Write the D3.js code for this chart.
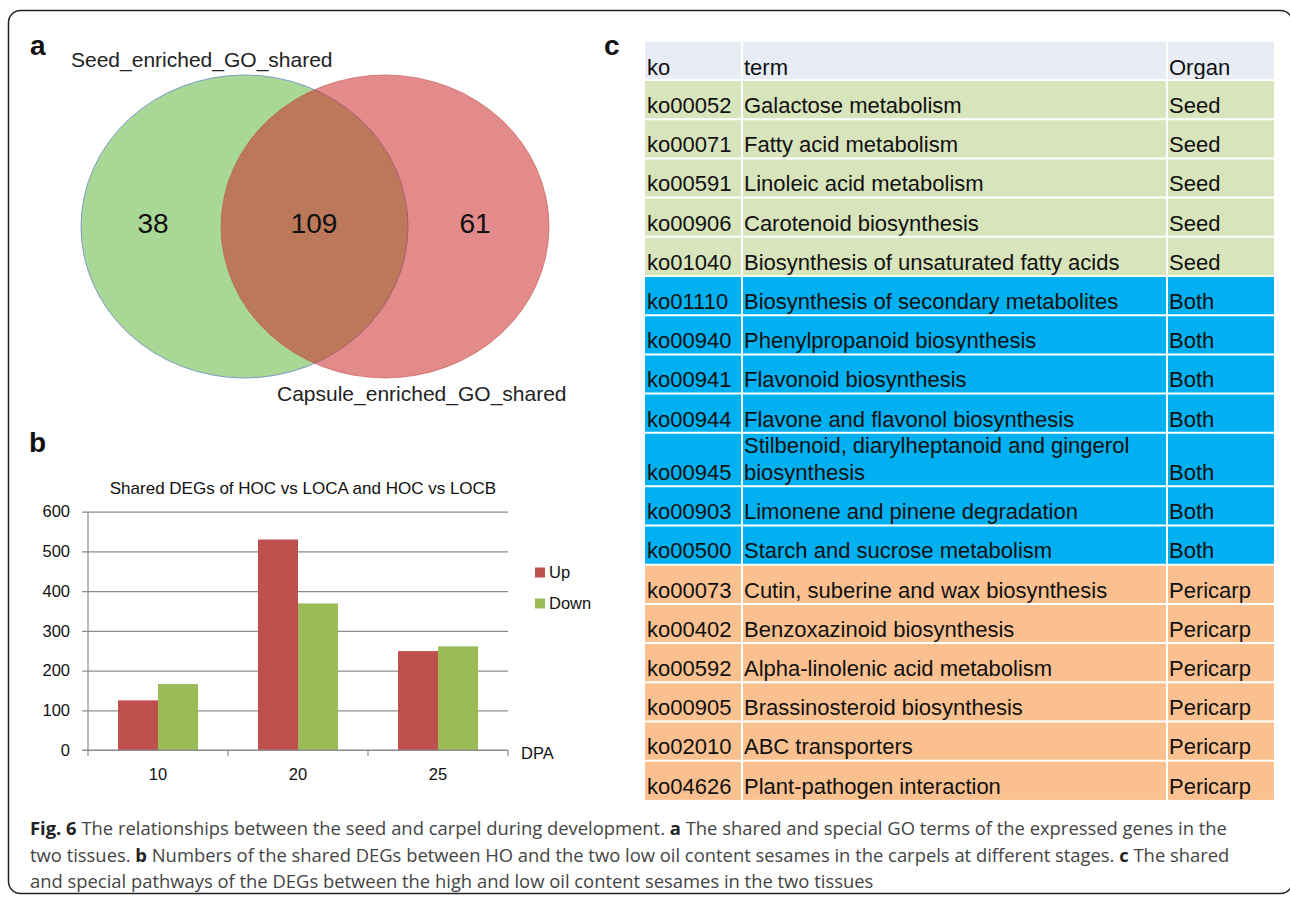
<!DOCTYPE html>
<html><head><meta charset="utf-8">
<script src="https://cdn.jsdelivr.net/npm/d3@7"></script>
<style>
html,body{margin:0;padding:0;background:#fff;}
svg{display:block;}
</style></head>
<body>
<svg id="fig" width="1290" height="898"></svg>
<script>
// ---------- DATA ----------
const vennSets = ["Seed_enriched_GO_shared", "Capsule_enriched_GO_shared"];
const vennCounts = [38, 109, 61]; // seed only, shared, capsule only

const barTitle = "Shared DEGs of HOC vs LOCA and HOC vs LOCB";
const barCategories = ["10", "20", "25"];
const barSeries = ["Up", "Down"];
const upValues = [125, 530, 249];
const downValues = [166, 369, 261];
const yTicks = [0, 100, 200, 300, 400, 500, 600];
const xAxisLabel = "DPA";

const tableHeader = ["ko", "term", "Organ"];
const koIds = ["ko00052","ko00071","ko00591","ko00906","ko01040","ko01110","ko00940","ko00941","ko00944","ko00945","ko00903","ko00500","ko00073","ko00402","ko00592","ko00905","ko02010","ko04626"];
const koTerms = ["Galactose metabolism","Fatty acid metabolism","Linoleic acid metabolism","Carotenoid biosynthesis","Biosynthesis of unsaturated fatty acids","Biosynthesis of secondary metabolites","Phenylpropanoid biosynthesis","Flavonoid biosynthesis","Flavone and flavonol biosynthesis","Stilbenoid, diarylheptanoid and gingerol biosynthesis","Limonene and pinene degradation","Starch and sucrose metabolism","Cutin, suberine and wax biosynthesis","Benzoxazinoid biosynthesis","Alpha-linolenic acid metabolism","Brassinosteroid biosynthesis","ABC transporters","Plant-pathogen interaction"];
const koOrgans = ["Seed","Seed","Seed","Seed","Seed","Both","Both","Both","Both","Both","Both","Both","Pericarp","Pericarp","Pericarp","Pericarp","Pericarp","Pericarp"];

const captionLines = [
  [["b","Fig. 6"],["n"," The relationships between the seed and carpel during development. "],["b","a"],["n"," The shared and special GO terms of the expressed genes in the"]],
  [["n","two tissues. "],["b","b"],["n"," Numbers of the shared DEGs between HO and the two low oil content sesames in the carpels at different stages. "],["b","c"],["n"," The shared"]],
  [["n","and special pathways of the DEGs between the high and low oil content sesames in the two tissues"]]
];

// ---------- DRAW ----------
const svg = d3.select("#fig");
const ARIAL = "'Liberation Sans', Arial, sans-serif";

// Border
svg.append("rect").attr("x", 8.5).attr("y", 10.5).attr("width", 1284).attr("height", 883)
  .attr("rx", 12).attr("ry", 12).attr("fill", "none").attr("stroke", "#222").attr("stroke-width", 1.5);

// Panel letters
const letters = [["a", 30, 55], ["b", 29, 452], ["c", 604, 55]];
svg.selectAll("text.panel").data(letters).join("text").attr("class", "panel")
  .attr("x", d => d[1]).attr("y", d => d[2]).text(d => d[0])
  .attr("font-family", ARIAL).attr("font-weight", "bold").attr("font-size", 28).attr("fill", "#111");

// ---------- Panel a: Venn ----------
const venn = svg.append("g");
const vx = d3.scaleLinear().domain([0, 1]).range([244.5, 385]);
venn.append("ellipse").attr("cx", vx(0)).attr("cy", 226.5).attr("rx", 163.5).attr("ry", 151.5)
  .attr("fill", "#A9D795").attr("stroke", "#7E9BC8").attr("stroke-width", 1);
venn.append("ellipse").attr("cx", vx(1)).attr("cy", 226.5).attr("rx", 164).attr("ry", 151.5)
  .attr("fill", "rgb(204,42,42)").attr("fill-opacity", 0.55)
  .attr("stroke", "#C0504D").attr("stroke-opacity", 0.6).attr("stroke-width", 1);
const countX = [153, 314, 475];
venn.selectAll("text.cnt").data(vennCounts).join("text").attr("class", "cnt")
  .attr("x", (d, i) => countX[i]).attr("y", 233).attr("text-anchor", "middle")
  .attr("font-family", ARIAL).attr("font-size", 28).attr("fill", "#111").text(d => d);
venn.append("text").attr("x", 71).attr("y", 67).text(vennSets[0])
  .attr("font-family", ARIAL).attr("font-size", 21).attr("fill", "#222");
venn.append("text").attr("x", 277).attr("y", 401).text(vennSets[1])
  .attr("font-family", ARIAL).attr("font-size", 21).attr("fill", "#222");

// ---------- Panel b: bar chart ----------
const bar = svg.append("g");
const x0 = d3.scaleBand().domain(barCategories).range([88, 508]).paddingInner(0).paddingOuter(0);
const x1 = d3.scaleBand().domain(barSeries).range([30, 110]).padding(0);
const y = d3.scaleLinear().domain([0, 600]).range([750, 511.7]);
const color = d3.scaleOrdinal().domain(barSeries).range(["#C0504D", "#9BBB59"]);

bar.append("text").attr("x", 303).attr("y", 494).attr("text-anchor", "middle")
  .attr("font-family", ARIAL).attr("font-size", 17).attr("fill", "#111").text(barTitle);

// gridlines
const yAxis = d3.axisLeft(y).tickValues(yTicks).tickSize(-420).tickPadding(12);
const gy = bar.append("g").attr("transform", "translate(88,0)").call(yAxis);
gy.select(".domain").remove();
gy.selectAll(".tick line").attr("stroke", "#8c8c8c").attr("stroke-width", 1.2).attr("x1", -6);
gy.selectAll(".tick text").attr("font-family", ARIAL).attr("font-size", 16.5).attr("fill", "#111").attr("x", -18);
bar.append("line").attr("x1", 88).attr("x2", 88).attr("y1", y(600)).attr("y2", y(0))
  .attr("stroke", "#8c8c8c").attr("stroke-width", 1.2);

const data = barCategories.map((c, i) => ({ cat: c, vals: [{ s: "Up", v: upValues[i] }, { s: "Down", v: downValues[i] }] }));
const groups = bar.selectAll("g.grp").data(data).join("g").attr("class", "grp")
  .attr("transform", d => `translate(${x0(d.cat)},0)`);
groups.selectAll("rect").data(d => d.vals).join("rect")
  .attr("x", d => x1(d.s)).attr("width", x1.bandwidth())
  .attr("y", d => y(d.v)).attr("height", d => y(0) - y(d.v))
  .attr("fill", d => color(d.s));

// x axis
const xAxis = d3.axisBottom(x0).tickSize(0).tickPadding(20);
const gx = bar.append("g").attr("transform", `translate(0,${y(0)})`).call(xAxis);
gx.select(".domain").attr("stroke", "#8c8c8c").attr("stroke-width", 1.2).attr("d", "M82,0H508");
gx.selectAll(".tick text").attr("font-family", ARIAL).attr("font-size", 16.5).attr("fill", "#111").attr("dy", "0.6em");
const sepX = [88, 228, 368, 508];
bar.selectAll("line.xt").data(sepX).join("line").attr("class", "xt")
  .attr("x1", d => d).attr("x2", d => d).attr("y1", y(0)).attr("y2", y(0) + 6)
  .attr("stroke", "#8c8c8c").attr("stroke-width", 1.2);
bar.append("text").attr("x", 521).attr("y", 759).attr("font-family", ARIAL).attr("font-size", 16.5).attr("fill", "#111").text(xAxisLabel);

// legend
const leg = bar.selectAll("g.leg").data(barSeries).join("g").attr("class", "leg")
  .attr("transform", (d, i) => `translate(535,${567.5 + i * 31})`);
leg.append("rect").attr("width", 10).attr("height", 10).attr("fill", d => color(d));
leg.append("text").attr("x", 14).attr("y", 10).attr("font-family", ARIAL).attr("font-size", 16.5).attr("fill", "#111").text(d => d);

// ---------- Panel c: table ----------
const tab = svg.append("g");
const colX = [645, 742, 1167, 1274];
const organColor = d3.scaleOrdinal().domain(["Seed", "Both", "Pericarp"]).range(["#D8E4BC", "#00B0F0", "#FAC090"]);
const FS = 22;
const meas = svg.append("text").attr("font-family", ARIAL).attr("font-size", FS);
function wrap(str, maxW) {
  const words = str.split(" "); const lines = []; let cur = "";
  words.forEach(w => {
    const t = cur ? cur + " " + w : w;
    meas.text(t);
    if (meas.node().getComputedTextLength() > maxW && cur) { lines.push(cur); cur = w; } else cur = t;
  });
  lines.push(cur); return lines;
}
const rows = koIds.map((k, i) => ({ ko: k, term: koTerms[i], organ: koOrgans[i], lines: wrap(koTerms[i], colX[2] - colX[1] - 6) }));
meas.remove();
const headerTop = 41.7, headerH = 38.3, rowH = 39.2, extraLineH = 14.3;
let yy = headerTop + headerH;
rows.forEach(r => { r.top = yy; r.h = rowH + (r.lines.length - 1) * extraLineH; yy += r.h; });

tab.append("rect").attr("x", colX[0]).attr("y", headerTop).attr("width", colX[3] - colX[0]).attr("height", headerH).attr("fill", "#E8ECF4");
tab.selectAll("text.hd").data(tableHeader).join("text").attr("class", "hd")
  .attr("x", (d, i) => colX[i] + 2).attr("y", headerTop + headerH - 5.5)
  .attr("font-family", ARIAL).attr("font-size", FS).attr("fill", "#111").text(d => d);

const rg = tab.selectAll("g.row").data(rows).join("g").attr("class", "row");
rg.append("rect").attr("x", colX[0]).attr("y", d => d.top).attr("width", colX[3] - colX[0]).attr("height", d => d.h)
  .attr("fill", d => organColor(d.organ));
rg.append("text").attr("x", colX[0] + 2).attr("y", d => d.top + d.h - 6.3)
  .attr("font-family", ARIAL).attr("font-size", FS).attr("fill", "#111").text(d => d.ko);
rg.append("text").attr("x", colX[2] + 2).attr("y", d => d.top + d.h - 6.3)
  .attr("font-family", ARIAL).attr("font-size", FS).attr("fill", "#111").text(d => d.organ);
rg.each(function (d) {
  const n = d.lines.length;
  d3.select(this).selectAll("text.term").data(d.lines).join("text").attr("class", "term")
    .attr("x", colX[1] + 2).attr("y", (l, j) => d.top + d.h - 6.3 - (n - 1 - j) * 26.7)
    .attr("font-family", ARIAL).attr("font-size", FS).attr("fill", "#111").text(l => l);
});
const rowBounds = [headerTop + headerH].concat(rows.map(r => r.top + r.h)).slice(0, -1);
tab.selectAll("line.hs").data(rowBounds).join("line").attr("class", "hs")
  .attr("x1", colX[0]).attr("x2", colX[3]).attr("y1", d => d).attr("y2", d => d)
  .attr("stroke", "#fff").attr("stroke-width", 2);
tab.selectAll("line.vs").data([colX[1], colX[2]]).join("line").attr("class", "vs")
  .attr("x1", d => d).attr("x2", d => d).attr("y1", headerTop).attr("y2", yy)
  .attr("stroke", "#fff").attr("stroke-width", 2);

// ---------- Caption ----------
const CAPF = "'Open Sans', 'Noto Sans', sans-serif";
const capY = [835, 862, 888];
const capTexts = svg.selectAll("text.cap").data(captionLines).join("text").attr("class", "cap")
  .attr("x", 30).attr("y", (d, i) => capY[i])
  .attr("font-family", CAPF).attr("font-size", 17).attr("fill", "#444");
capTexts.each(function (segs) {
  d3.select(this).selectAll("tspan").data(segs).join("tspan")
    .attr("font-weight", s => s[0] === "b" ? "bold" : "normal")
    .attr("fill", s => s[0] === "b" ? "#222" : null)
    .text(s => s[1]);
});
const w0 = capTexts.nodes()[0].getComputedTextLength();
const fs = 17 * 1198 / w0;
capTexts.attr("font-size", fs);
const wAfter = capTexts.nodes()[0].getComputedTextLength();
if (Math.abs(wAfter - 1198) > 2) capTexts.attr("font-size", fs * 1198 / wAfter);
</script>
</body></html>
